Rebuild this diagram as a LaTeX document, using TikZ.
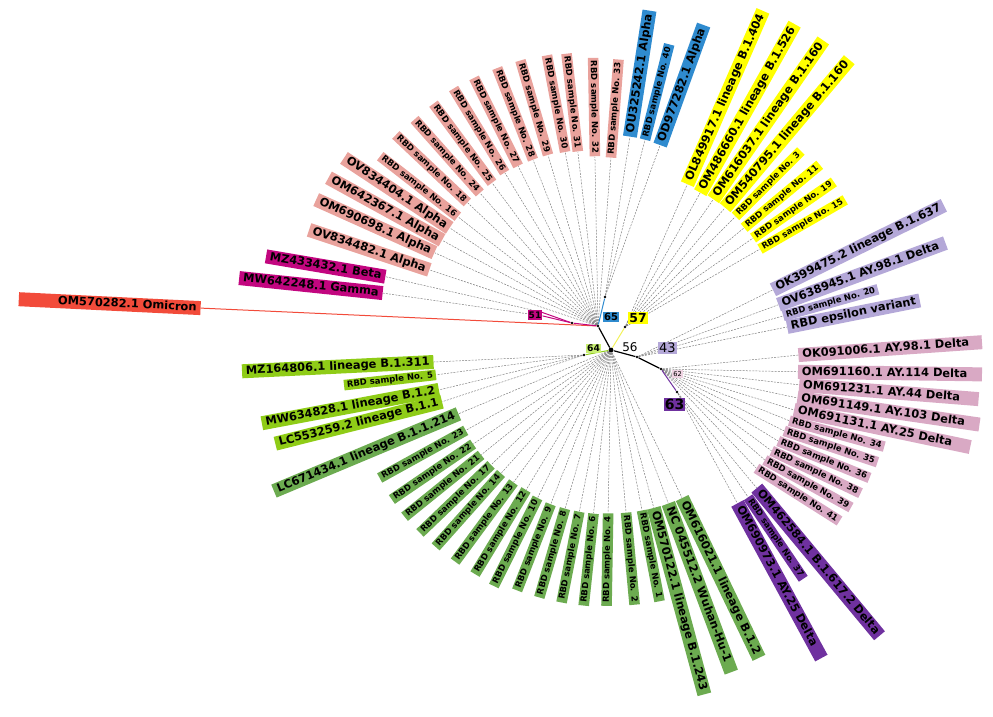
\documentclass[tikz,border=0pt]{standalone}
\usepackage{fontspec}
\setmainfont{DejaVu Sans}
\usetikzlibrary{calc}
\pgfdeclarelayer{bg}
\pgfsetlayers{bg,main}
\definecolor{cOmi}{HTML}{F24B3A}
\definecolor{cMag}{HTML}{C2067F}
\definecolor{cAlp}{HTML}{E9A29C}
\definecolor{cBlu}{HTML}{2F8BCF}
\definecolor{cYel}{HTML}{FFFF00}
\definecolor{cYline}{HTML}{F2F25A}
\definecolor{cLav}{HTML}{B4A8D8}
\definecolor{cPnk}{HTML}{D9A9C4}
\definecolor{cPur}{HTML}{6F319F}
\definecolor{cGrn}{HTML}{6CAB50}
\definecolor{cYgr}{HTML}{8FCC17}
\definecolor{cLsf}{HTML}{C8EF72}
\definecolor{cLsp}{HTML}{EFD3E2}
\tikzset{
 lbig/.style={font=\fontsize{5.7}{6.8}\selectfont\bfseries, inner xsep=2pt, inner ysep=0.5pt, text height=4.6pt, text depth=1.4pt},
 lsml/.style={font=\fontsize{4.25}{5}\selectfont\bfseries, inner xsep=1.5pt, inner ysep=0.45pt, text height=3.4pt, text depth=1.0pt},
 dline/.style={draw=black!50, line width=0.25pt, dash pattern=on 1pt off 0.6pt},
 tdot/.style={circle, fill=black, inner sep=0pt, minimum size=1.3pt},
 tline/.style={line width=0.6pt},
 nlab/.style={inner xsep=0.6pt, inner ysep=0.6pt}
}
\newcommand\lbxR[2]{\makebox[#1][r]{#2}}
\newcommand\lbxL[2]{\makebox[#1][l]{#2}}
% #1 name, #2 angle from C, #3 radius, #4 size style, #5 fill, #6 text, #7 parent, #8 orientation reference
\newcommand\lfR[8]{%
 \path let \p1=($(C)+(#2:#3)$), \p2=(#8), \n1={atan2(\y1-\y2,\x1-\x2)} in
   node[#4, fill=#5, anchor=west, rotate=\n1] (#1) at (\p1) {#6};
 \begin{pgfonlayer}{bg}\draw[dline] (#7) -- (#1.west);\end{pgfonlayer}}
\newcommand\lfL[8]{%
 \path let \p1=($(C)+(#2:#3)$), \p2=(#8), \n1={atan2(\y1-\y2,\x1-\x2)} in
   node[#4, fill=#5, anchor=east, rotate=\n1-180] (#1) at (\p1) {#6};
 \begin{pgfonlayer}{bg}\draw[dline] (#7) -- (#1.east);\end{pgfonlayer}}
\begin{document}
\begin{tikzpicture}[x=0.5pt,y=0.5pt]
\useasboundingbox (0,0) rectangle (993,-717);
\coordinate (C) at (610,-336);
\coordinate (qP) at (600,-369);
\coordinate (qY) at (640,-352);
\coordinate (qM) at (640,-320);
% tree nodes
\node[tdot, minimum size=2.4pt] (r56) at (611,-350) {};
\node[tdot] (n65b) at (598,-326) {};
\node[tdot] (n65t) at (605,-297) {};
\node[tdot] (n51) at (572,-323) {};
\coordinate (tB) at (541,-312);
\coordinate (tG) at (543,-316);
\node[tdot] (n57) at (625,-327) {};
\node[tdot] (n64) at (584,-355) {};
\node[tdot] (n43) at (637,-357) {};
\node[tdot] (n62) at (661,-369) {};
\node[tdot] (n63) at (677,-392) {};
% Omicron
\node[lbig, fill=cOmi, anchor=east, rotate=-2.8] (omi) at ($(C)+(176.1:410)$) {\lbxR{87pt}{OM570282.1 Omicron}};
% magenta
\lfL{gam}{169.3}{231}{lbig}{cMag}{MW642248.1 Gamma}{tG}{qM}
\lfL{bet}{165.2}{232}{lbig}{cMag}{MZ433432.1 Beta}{tB}{qM}
% alpha / pink group
\lfL{oa1}{159.9}{192}{lbig}{cAlp}{OV834482.1 Alpha}{n65b}{n65b}
\lfL{oa2}{154.6}{194}{lbig}{cAlp}{OM690698.1 Alpha}{n65b}{n65b}
\lfL{oa3}{150.3}{193}{lbig}{cAlp}{OM642367.1 Alpha}{n65b}{n65b}
\lfL{oa4}{146.0}{193}{lbig}{cAlp}{OV834404.1 Alpha}{n65b}{n65b}
\lfL{s16}{141.9}{193}{lsml}{cAlp}{RBD sample No. 16}{n65b}{n65b}
\lfL{s18}{136.9}{195}{lsml}{cAlp}{RBD sample No. 18}{n65b}{n65b}
\lfL{s24}{132.3}{193}{lsml}{cAlp}{RBD sample No. 24}{n65b}{n65b}
\lfL{s25}{127.6}{193}{lsml}{cAlp}{RBD sample No. 25}{n65b}{n65b}
\lfL{s26}{122.8}{194}{lsml}{cAlp}{RBD sample No. 26}{n65b}{n65b}
\lfL{s27}{118.4}{193}{lsml}{cAlp}{RBD sample No. 27}{n65b}{n65b}
\lfL{s28}{113.6}{192}{lsml}{cAlp}{RBD sample No. 28}{n65b}{n65b}
\lfL{s29}{108.9}{191}{lsml}{cAlp}{RBD sample No. 29}{n65b}{n65b}
\lfL{s30}{103.7}{189}{lsml}{cAlp}{RBD sample No. 30}{n65b}{n65b}
\lfL{s31}{99.9}{187}{lsml}{cAlp}{RBD sample No. 31}{n65b}{n65b}
\lfL{s32}{94.8}{180}{lsml}{cAlp}{RBD sample No. 32}{n65b}{n65b}
\lfR{s33}{89.7}{178}{lsml}{cAlp}{RBD sample No. 33}{n65b}{n65b}
% blue
\lfR{ou}{84.3}{200}{lbig}{cBlu}{OU325242.1 Alpha}{n65t}{n65t}
\lfR{s40}{79.9}{199}{lsml}{cBlu}{RBD sample No. 40}{n65t}{n65t}
\lfR{od}{75.3}{197}{lbig}{cBlu}{OD977282.1 Alpha}{n65t}{n65t}
% yellow
\lfR{ol}{63.0}{170}{lbig}{cYel}{OL849917.1 lineage B.1.404}{n57}{n57}
\lfR{ya}{57.8}{169}{lbig}{cYel}{OM486660.1 lineage B.1.526}{n57}{n57}
\lfR{yb}{52.9}{171}{lbig}{cYel}{OM616037.1 lineage B.1.160}{n57}{n57}
\lfR{yc}{48.1}{172}{lbig}{cYel}{OM540795.1 lineage B.1.160}{n57}{n57}
\lfR{s3}{43.6}{173}{lsml}{cYel}{RBD sample No. 3}{n57}{n57}
\lfR{s11}{38.9}{172}{lsml}{cYel}{RBD sample No. 11}{n57}{n57}
\lfR{s19}{34.4}{173}{lsml}{cYel}{RBD sample No. 19}{n57}{n57}
\lfR{s15}{30.1}{173}{lsml}{cYel}{RBD sample No. 15}{n57}{n57}
% lavender
\lfR{la}{15.8}{169}{lbig}{cLav}{OK399475.2 lineage B.1.637}{n43}{n43}
\lfR{lb}{10.5}{171}{lbig}{cLav}{\lbxL{85pt}{OV638945.1 AY.98.1 Delta}}{n43}{n43}
\lfR{s20}{6.6}{174}{lsml}{cLav}{RBD sample No. 20}{n43}{n43}
\lfR{eps}{2.9}{177}{lbig}{cLav}{RBD epsilon variant}{n43}{n43}
% pink delta
\lfR{pa}{-5.8}{189}{lbig}{cPnk}{\lbxL{88pt}{OK091006.1 AY.98.1 Delta}}{n62}{qP}
\lfR{pb}{-10.8}{191}{lbig}{cPnk}{\lbxL{88pt}{OM691160.1 AY.114 Delta}}{n62}{qP}
\lfR{pc}{-14.5}{195}{lbig}{cPnk}{\lbxL{86pt}{OM691231.1 AY.44 Delta}}{n62}{qP}
\lfR{pd}{-18.3}{197}{lbig}{cPnk}{\lbxL{88pt}{OM691149.1 AY.103 Delta}}{n62}{qP}
\lfR{pe}{-21.9}{198}{lbig}{cPnk}{\lbxL{86pt}{OM691131.1 AY.25 Delta}}{n62}{qP}
\lfR{s34}{-25.3}{198}{lsml}{cPnk}{RBD sample No. 34}{n62}{qP}
\lfR{s35}{-28.6}{198}{lsml}{cPnk}{RBD sample No. 35}{n62}{qP}
\lfR{s36}{-32.0}{198}{lsml}{cPnk}{RBD sample No. 36}{n62}{qP}
\lfR{s38}{-35.4}{198}{lsml}{cPnk}{RBD sample No. 38}{n62}{qP}
\lfR{s39}{-38.7}{198}{lsml}{cPnk}{RBD sample No. 39}{n62}{qP}
\lfR{s41}{-42.1}{197}{lsml}{cPnk}{RBD sample No. 41}{n62}{qP}
% purple
\lfR{ua}{-46.0}{211}{lbig}{cPur}{\lbxL{92pt}{OM462584.1 B.1.617.2 Delta}}{n63}{n63}
\lfR{s37}{-49.4}{212}{lsml}{cPur}{RBD sample No. 37}{n63}{n63}
\lfR{ub}{-52.7}{210}{lbig}{cPur}{\lbxL{84pt}{OM690973.1 AY.25 Delta}}{n63}{n63}
% green
\lfR{ga}{-66.0}{177}{lbig}{cGrn}{OM616021.1 lineage B.1.2}{r56}{r56}
\lfR{gb}{-70.8}{177}{lbig}{cGrn}{\lbxL{86pt}{NC 045512.2 Wuhan-Hu-1}}{r56}{r56}
\lfR{gc}{-75.7}{177}{lbig}{cGrn}{OM570122.1 lineage B.1.243}{r56}{r56}
\lfR{s1}{-79.6}{177}{lsml}{cGrn}{RBD sample No. 1}{r56}{r56}
\lfR{s2}{-84.8}{177}{lsml}{cGrn}{RBD sample No. 2}{r56}{r56}
\lfL{s4}{-90.6}{177}{lsml}{cGrn}{RBD sample No. 4}{r56}{r56}
\lfL{s6}{-95.3}{178}{lsml}{cGrn}{RBD sample No. 6}{r56}{r56}
\lfL{s7}{-99.9}{178}{lsml}{cGrn}{RBD sample No. 7}{r56}{r56}
\lfL{s8}{-104.6}{178}{lsml}{cGrn}{RBD sample No. 8}{r56}{r56}
\lfL{s9}{-109.4}{178}{lsml}{cGrn}{RBD sample No. 9}{r56}{r56}
\lfL{s10}{-114.1}{177}{lsml}{cGrn}{RBD sample No. 10}{r56}{r56}
\lfL{s12}{-118.6}{175}{lsml}{cGrn}{RBD sample No. 12}{r56}{r56}
\lfL{s13}{-123.4}{175}{lsml}{cGrn}{RBD sample No. 13}{r56}{r56}
\lfL{s14}{-128.4}{175}{lsml}{cGrn}{RBD sample No. 14}{r56}{r56}
\lfL{s17}{-132.7}{175}{lsml}{cGrn}{RBD sample No. 17}{r56}{r56}
\lfL{s21}{-137.3}{175}{lsml}{cGrn}{RBD sample No. 21}{r56}{r56}
\lfL{s22}{-141.7}{174}{lsml}{cGrn}{RBD sample No. 22}{r56}{r56}
\lfL{s23}{-146.8}{172}{lsml}{cGrn}{RBD sample No. 23}{r56}{r56}
\lfL{lc6}{-152.8}{170}{lbig}{cGrn}{LC671434.1 lineage B.1.1.214}{r56}{r56}
% yellow-green
\lfL{lc5}{-158.6}{180}{lbig}{cYgr}{LC553259.2 lineage B.1.1}{n64}{qY}
\lfL{mw6}{-162.5}{179}{lbig}{cYgr}{MW634828.1 lineage B.1.2}{n64}{qY}
\lfL{s5}{-167.4}{178}{lsml}{cYgr}{RBD sample No. 5}{n64}{qY}
\lfL{mz1}{-171.6}{178}{lbig}{cYgr}{MZ164806.1 lineage B.1.311}{n64}{qY}
% branches
\draw[cOmi, line width=0.5pt] (n65b) -- (omi.east);
\draw[cMag, line width=0.5pt] (n65b) -- (n51);
\draw[cMag, line width=0.5pt] (n51) -- (tB);
\draw[cMag, line width=0.5pt] (n51) -- (tG);
\draw[tline] (r56) -- (n65b);
\draw[cBlu, line width=0.5pt] (n65b) -- (n65t);
\draw[cYline, line width=0.5pt] (r56) -- (n57);
\draw[cYgr, line width=0.5pt] (r56) -- (n64);
\draw[tline] (r56) -- (n43) -- (n62);
\draw[cPur, line width=0.5pt] (n62) -- (n63);
% internal node labels
\node[nlab, fill=cMag, font=\fontsize{4.5}{5}\selectfont\bfseries] (l51) at (535,-315) {51};
\node[nlab, fill=cBlu, font=\fontsize{5}{6}\selectfont\bfseries] (l65) at (611,-317) {65};
\node[nlab, fill=cYel, font=\fontsize{6.2}{7}\selectfont\bfseries] (l57) at (638,-318) {57};
\node[nlab, fill=cLsf, font=\fontsize{4.6}{5}\selectfont\bfseries] (l64) at (593.5,-348.5) {64};
\node[nlab, font=\fontsize{6}{7}\selectfont] (l56) at (630,-347) {56};
\node[nlab, fill=cLav, font=\fontsize{6.5}{7}\selectfont] (l43) at (667.5,-348) {43};
\node[nlab, fill=cLsp, font=\fontsize{3.3}{4}\selectfont] (l62) at (677.5,-374) {62};
\node[nlab, fill=cPur, font=\fontsize{7}{8}\selectfont\bfseries] (l63) at (674.5,-404.5) {63};
\end{tikzpicture}
\end{document}
